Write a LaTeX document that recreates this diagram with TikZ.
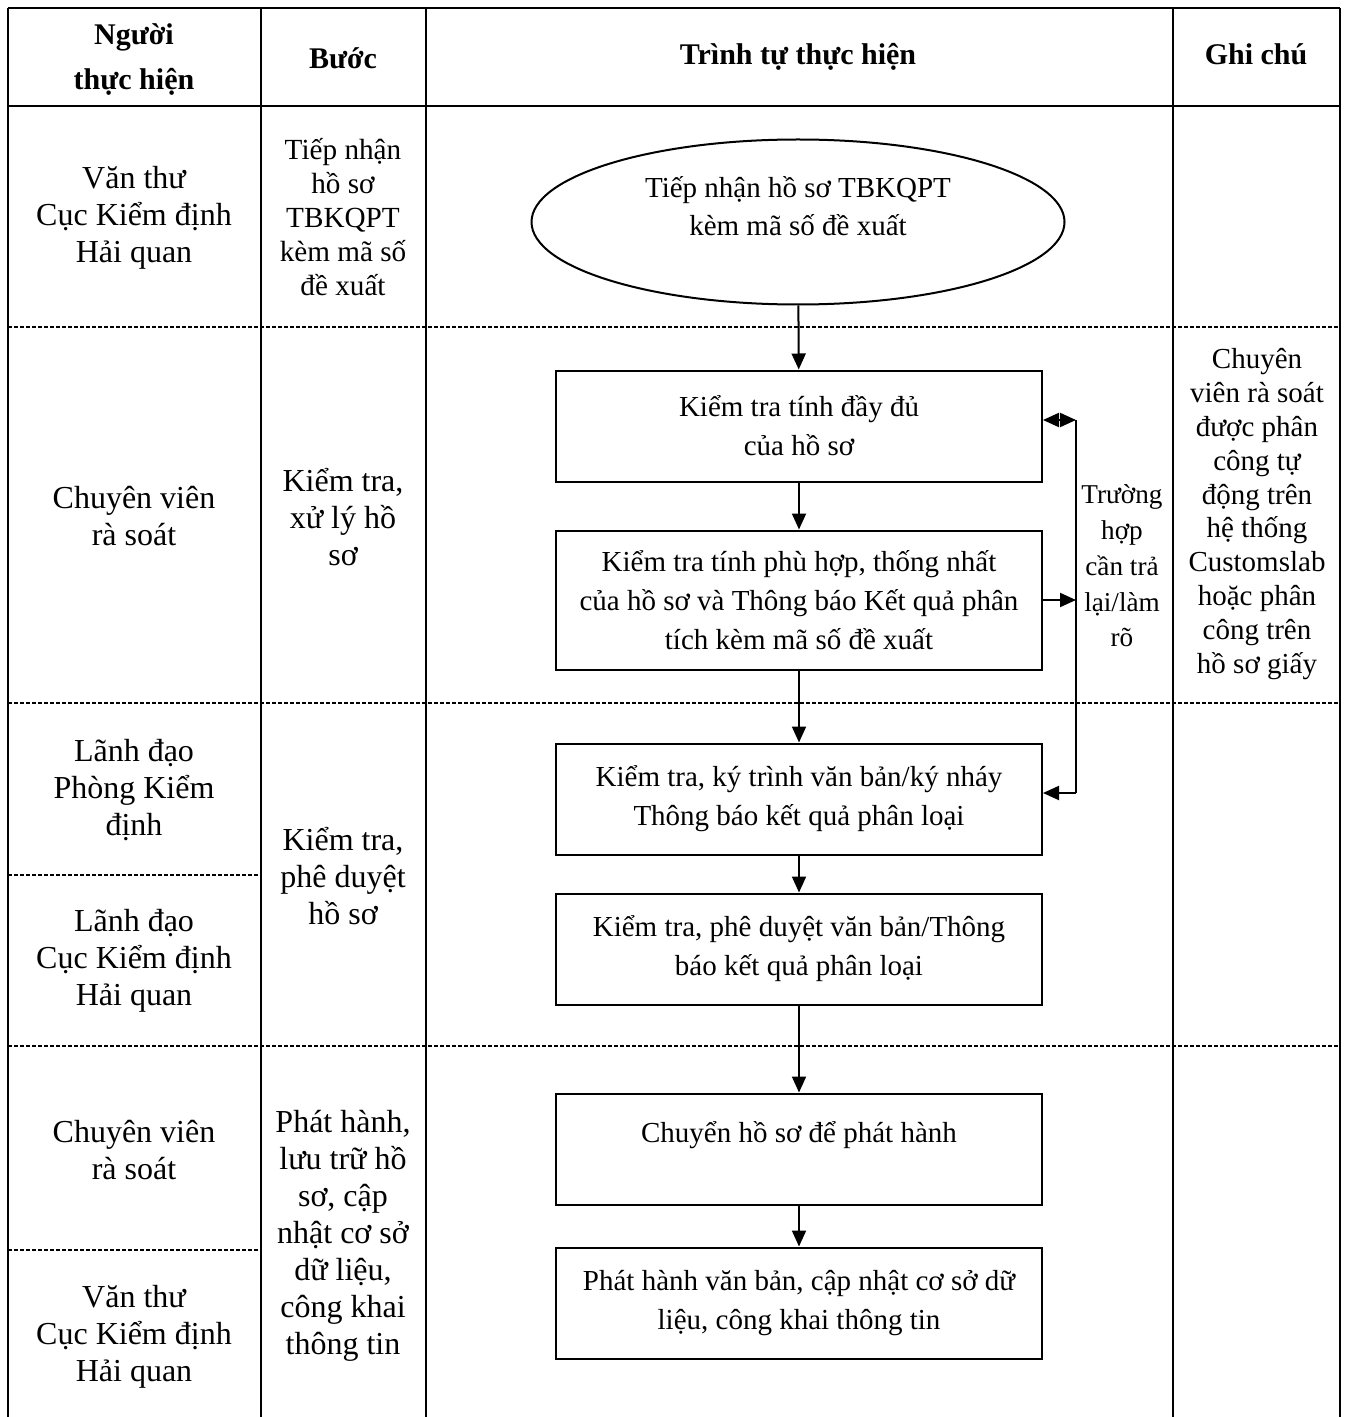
\documentclass[tikz,border=0pt]{standalone}
\usepackage{fontspec}
\setmainfont{Liberation Serif}
\usetikzlibrary{shapes.geometric,arrows.meta}

\tikzset{
  box/.style={draw,line width=1pt,minimum width=243pt,minimum height=55.5pt,
    align=center,font=\fontsize{14.5}{19.5}\selectfont},
  oval/.style={draw,line width=1pt,ellipse,minimum width=266.5pt,minimum height=82.5pt,
    align=center,text depth=16pt,font=\fontsize{14.5}{19}\selectfont},
  head/.style={align=center,inner sep=0pt,font=\bfseries\fontsize{15}{22.5}\selectfont},
  actor/.style={align=center,inner sep=0pt,font=\fontsize{16}{18.5}\selectfont},
  stage/.style={align=center,inner sep=0pt,font=\fontsize{16}{18.5}\selectfont},
  note/.style={align=center,inner sep=0pt,font=\fontsize{14.5}{16.9}\selectfont},
  tip/.tip={Triangle[length=8pt,width=7pt]},
  flow/.style={line width=1pt,-tip},
  rowline/.style={line width=0.6pt,dash pattern=on 2pt off 1pt}
}

\begin{document}
\begin{tikzpicture}[x=0.5pt,y=-0.5pt]
\useasboundingbox (0,0) rectangle (1345,1417);
% Let us start with the table:
\draw[line width=1pt] (8,8) -- (1340,8);
\draw[line width=1pt] (8,106) -- (1340,106);
\foreach \x in {8,261,426,1173,1340}
  \draw[line width=1pt] (\x,8) -- (\x,1417);
\foreach \y in {327,703,1046}
  \draw[rowline] (8,\y) -- (1340,\y);
\foreach \y in {875,1250}
  \draw[rowline] (8,\y) -- (261,\y);
% headings
\node[head] (head actor) at (134,60) {Người\\thực hiện};
\node[head] (head step) at (343,58) {Bước};
\node[head] (head flow) at (798,57) {Trình tự thực hiện};
\node[head] (head note) at (1256,54) {Ghi chú};
% who does it
\node[actor] (actor 1) at (134,218) {Văn thư\\Cục Kiểm định\\Hải quan};
\node[actor] (actor 2) at (134,516) {Chuyên viên\\rà soát};
\node[actor] (actor 3) at (134,790) {Lãnh đạo\\Phòng Kiểm\\định};
\node[actor] (actor 4) at (134,961) {Lãnh đạo\\Cục Kiểm định\\Hải quan};
\node[actor] (actor 5) at (134,1150) {Chuyên viên\\rà soát};
\node[actor] (actor 6) at (134,1337) {Văn thư\\Cục Kiểm định\\Hải quan};
% steps
\node[stage,font=\fontsize{14.6}{17}\selectfont] (step 1) at (343,217)
  {Tiếp nhận\\hồ sơ\\TBKQPT\\kèm mã số\\đề xuất};
\node[stage] (step 2) at (343,517) {Kiểm tra,\\xử lý hồ\\sơ};
\node[stage] (step 3) at (343,876) {Kiểm tra,\\phê duyệt\\hồ sơ};
\node[stage] (step 4) at (343,1236)
  {Phát hành,\\lưu trữ hồ\\sơ, cập\\nhật cơ sở\\dữ liệu,\\công khai\\thông tin};
% notes
\node[note] (note 1) at (1257,514)
  {Chuyên\\viên rà soát\\được phân\\công tự\\động trên\\hệ thống\\Customslab\\hoặc phân\\công trên\\hồ sơ giấy};
\node[note,font=\fontsize{13.6}{17.9}\selectfont] (case) at (1122,566)
  {Trường\\hợp\\cần trả\\lại/làm\\rõ};
% the flow itself
\node[oval] (receive) at (798,222) {Tiếp nhận hồ sơ TBKQPT\\kèm mã số đề xuất};
\node[box] (check 1) at (799,426) {Kiểm tra tính đầy đủ\\của hồ sơ};
\node[box,minimum height=69.5pt] (check 2) at (799,600)
  {Kiểm tra tính phù hợp, thống nhất\\của hồ sơ và Thông báo Kết quả phân\\tích kèm mã số đề xuất};
\node[box] (sign) at (799,799) {Kiểm tra, ký trình văn bản/ký nháy\\Thông báo kết quả phân loại};
\node[box] (approve) at (799,949) {Kiểm tra, phê duyệt văn bản/Thông\\báo kết quả phân loại};
\node[box,text depth=17pt] (transfer) at (799,1149) {Chuyển hồ sơ để phát hành};
\node[box] (publish) at (799,1303) {Phát hành văn bản, cập nhật cơ sở dữ\\liệu, công khai thông tin};
\draw[flow] (receive) -- (check 1);
\draw[flow] (check 1) -- (check 2);
\draw[flow] (check 2) -- (sign);
\draw[flow] (sign) -- (approve);
\draw[flow] (approve) -- (transfer);
\draw[flow] (transfer) -- (publish);
% going back when needed
\coordinate (back top) at (1076,420);
\coordinate (back bottom) at (1076,793);
\draw[line width=1pt] (back top) -- (back bottom);
\draw[flow,tip-tip] (check 1.east |- back top) -- (back top);
\draw[flow] (check 2.east) -- (check 2.east -| back top);
\draw[flow] (back bottom) -- (back bottom -| sign.east);
\end{tikzpicture}
\end{document}
